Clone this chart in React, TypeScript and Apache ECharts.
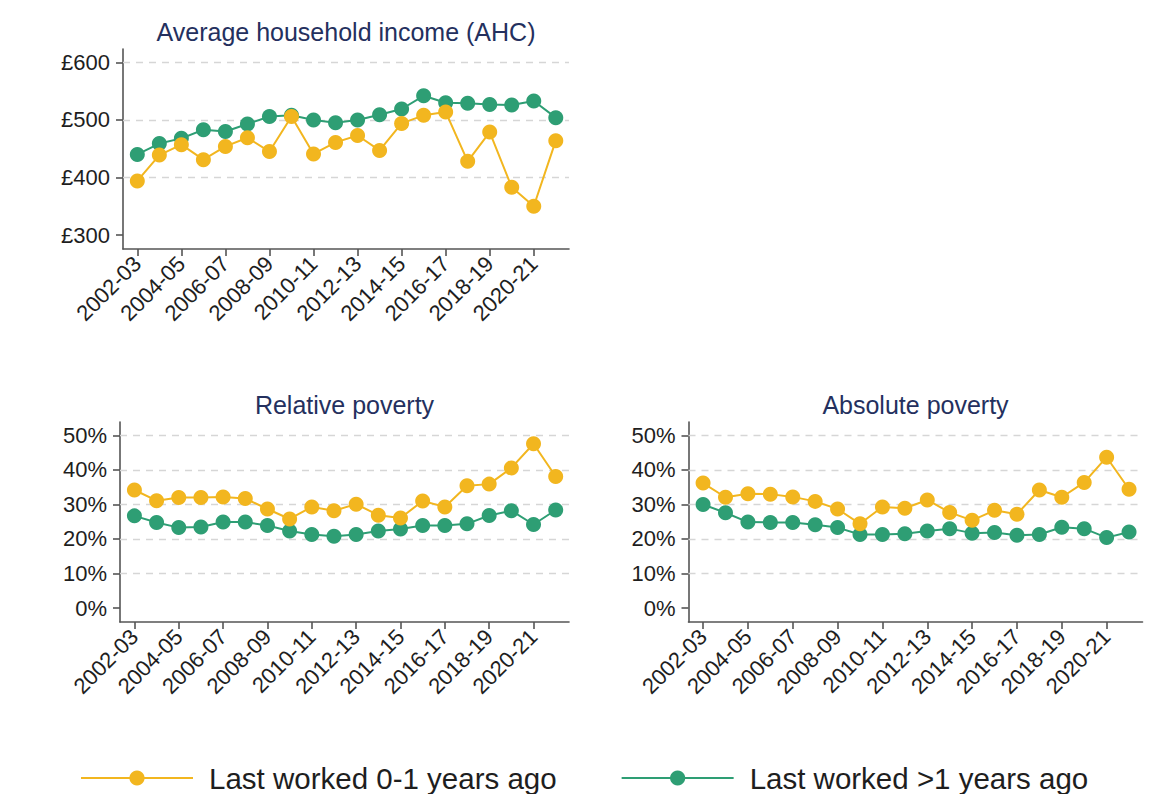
import React, { useEffect, useRef } from "react";
import * as echarts from "echarts";

const years = [
  "2002-03", "2003-04", "2004-05", "2005-06", "2006-07", "2007-08", "2008-09", "2009-10",
  "2010-11", "2011-12", "2012-13", "2013-14", "2014-15", "2015-16", "2016-17", "2017-18",
  "2018-19", "2019-20", "2020-21", "2021-22",
];

const seriesNames = ["Last worked 0-1 years ago", "Last worked >1 years ago"];

const incomeRecent = [394, 439, 457, 431, 454, 469, 445, 506, 441, 461, 473, 447, 494, 508, 514, 428, 479, 383, 350, 464];
const incomeLong = [440, 459, 468, 483, 480, 493, 506, 508, 500, 495, 500, 509, 519, 542, 530, 529, 527, 526, 533, 504];

const relRecent = [34.2, 31.1, 32.0, 32.0, 32.2, 31.7, 28.7, 25.8, 29.3, 28.2, 30.1, 26.9, 26.1, 31.0, 29.3, 35.4, 35.9, 40.6, 47.6, 38.1];
const relLong = [26.7, 24.8, 23.3, 23.5, 24.9, 24.9, 23.9, 22.3, 21.3, 20.8, 21.3, 22.3, 22.9, 23.9, 23.9, 24.4, 26.8, 28.2, 24.2, 28.4];

const absRecent = [36.2, 32.1, 33.1, 33.0, 32.2, 30.9, 28.7, 24.4, 29.3, 28.9, 31.3, 27.7, 25.4, 28.3, 27.2, 34.2, 32.1, 36.4, 43.7, 34.4];
const absLong = [30.0, 27.6, 24.9, 24.8, 24.8, 24.1, 23.3, 21.3, 21.3, 21.5, 22.3, 23.0, 21.7, 21.9, 21.1, 21.3, 23.4, 23.0, 20.4, 22.0];

const xTickIdx = [0, 2, 4, 6, 8, 10, 12, 14, 16, 18];
const incomeTicks = [300, 400, 500, 600];
const incomeGrid = [400, 500, 600];
const povTicks = [0, 10, 20, 30, 40, 50];
const povGrid = [10, 20, 30, 40, 50];

const YELLOW = "#F2B61F";
const GREEN = "#2E9E74";
const FONT = "'Liberation Sans', Arial, sans-serif";
const AXIS_COLOR = "#555555";
const TEXT_COLOR = "#1e1e1e";
const TITLE_COLOR = "#24305e";

const pairs = (arr: number[]) => arr.map((v, i) => [i, v]);

export default function App() {
  const ref = useRef<HTMLDivElement>(null);

  useEffect(() => {
    if (!ref.current) return;
    const chart = echarts.init(ref.current, undefined, { renderer: "svg" });

    const panels = [
      { left: 123, top: 49, width: 446, height: 200, min: 275.7, max: 623.3, ticks: incomeTicks, grid: incomeGrid, fmt: (v: number) => "£" + v, recent: incomeRecent, long: incomeLong, title: "Average household income (AHC)" },
      { left: 120, top: 422, width: 449, height: 200, min: -4.05, max: 53.9, ticks: povTicks, grid: povGrid, fmt: (v: number) => v + "%", recent: relRecent, long: relLong, title: "Relative poverty" },
      { left: 688.5, top: 422, width: 454, height: 200, min: -4.05, max: 53.9, ticks: povTicks, grid: povGrid, fmt: (v: number) => v + "%", recent: absRecent, long: absLong, title: "Absolute poverty" },
    ];

    const grid = panels.map((p) => ({ left: p.left, top: p.top, width: p.width, height: p.height, containLabel: false }));

    const xAxis = panels.map((p, i) => ({
      type: "value",
      gridIndex: i,
      min: -0.65,
      max: 19.6,
      axisLine: { show: true, onZero: false, lineStyle: { color: AXIS_COLOR, width: 1.6 } },
      axisTick: { show: true, length: 7, customValues: xTickIdx, lineStyle: { color: AXIS_COLOR, width: 1.6 } },
      axisLabel: {
        show: true,
        customValues: xTickIdx,
        rotate: 45,
        margin: 11,
        fontSize: 22,
        fontFamily: FONT,
        color: TEXT_COLOR,
        formatter: (v: number) => years[Math.round(v)],
      },
      splitLine: { show: false },
    }));

    const yAxis = panels.map((p, i) => ({
      type: "value",
      gridIndex: i,
      min: p.min,
      max: p.max,
      axisLine: { show: true, onZero: false, lineStyle: { color: AXIS_COLOR, width: 1.6 } },
      axisTick: { show: true, length: 7, customValues: p.ticks, lineStyle: { color: AXIS_COLOR, width: 1.6 } },
      axisLabel: {
        show: true,
        customValues: p.ticks,
        margin: 13,
        fontSize: 22,
        fontFamily: FONT,
        color: TEXT_COLOR,
        formatter: (v: number) => p.fmt(Math.round(v)),
      },
      splitLine: { show: false },
    }));

    const series: any[] = [];
    panels.forEach((p, i) => {
      series.push({
        name: seriesNames[1],
        type: "line",
        xAxisIndex: i,
        yAxisIndex: i,
        data: pairs(p.long),
        symbol: "circle",
        symbolSize: 15,
        lineStyle: { color: GREEN, width: 2 },
        itemStyle: { color: GREEN },
        z: 3,
        markLine: {
          silent: true,
          symbol: ["none", "none"],
          label: { show: false },
          lineStyle: { color: "#d6d6d6", type: [7, 6], width: 1.4 },
          data: p.grid.map((g) => ({ yAxis: g })),
          z: 1,
        },
      });
      series.push({
        name: seriesNames[0],
        type: "line",
        xAxisIndex: i,
        yAxisIndex: i,
        data: pairs(p.recent),
        symbol: "circle",
        symbolSize: 15,
        lineStyle: { color: YELLOW, width: 2 },
        itemStyle: { color: YELLOW },
        z: 4,
      });
    });

    const title = panels.map((p) => ({
      text: p.title,
      left: p.left + p.width / 2,
      top: p.top - 30,
      textAlign: "center",
      padding: 0,
      textStyle: { fontSize: 25, fontWeight: "normal", fontFamily: FONT, color: TITLE_COLOR },
    }));

    chart.setOption({
      animation: false,
      backgroundColor: "#ffffff",
      title,
      grid,
      xAxis,
      yAxis,
      legend: {
        data: seriesNames,
        left: 75,
        top: 758,
        itemWidth: 112,
        itemHeight: 19,
        itemGap: 64,
        textStyle: { fontSize: 29.5, fontFamily: FONT, color: TEXT_COLOR, padding: [0, 0, 0, 11] },
      },
      series,
    });

    return () => chart.dispose();
  }, []);

  return (
    <div
      ref={ref}
      style={{ position: "fixed", left: 0, top: 0, width: 1176, height: 794, background: "#fff" }}
    />
  );
}
